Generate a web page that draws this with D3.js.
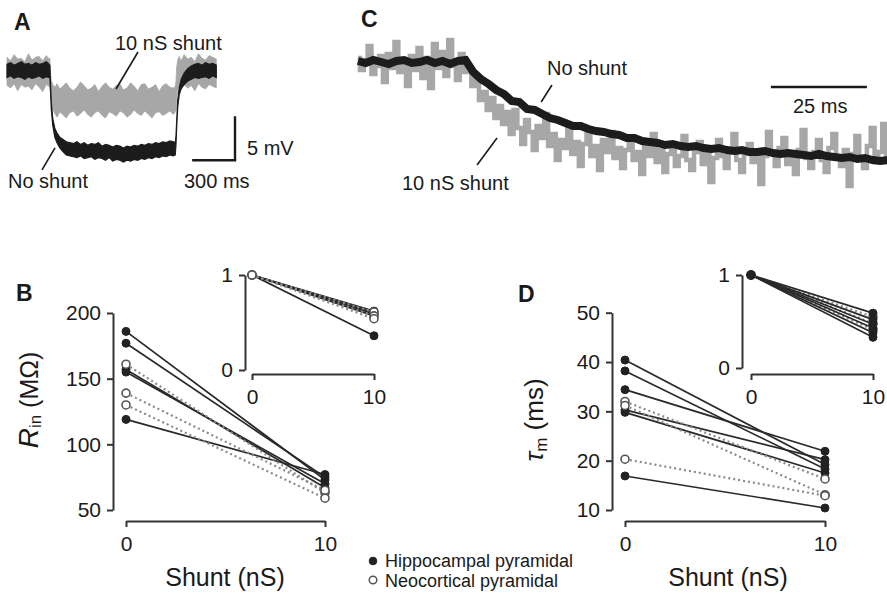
<!DOCTYPE html>
<html>
<head>
<meta charset="utf-8">
<script src="https://cdn.jsdelivr.net/npm/d3@7"></script>
<style>
  body { margin: 0; background: #fff; }
  text { font-family: "Liberation Sans", Arial, Helvetica, sans-serif; fill: #1a1a1a; }
</style>
</head>
<body>
<svg id="fig" width="887" height="598"></svg>
<script>
// ---------- Panel A: hyperpolarising step responses (mV vs ms) ----------
const timeA = [0,25,50,75,100,125,150,175,200,225,250,275,295,300,305,310,320,335,350,370,390,
  415,440,465,490,515,540,565,590,615,640,665,690,715,740,765,790,815,840,865,890,915,940,965,990,
  1015,1040,1065,1090,1115,1140,1165,1178,1183,1188,1195,1205,1220,1240,
  1265,1290,1315,1340,1365,1390,1415,1440,1465];
// 10 nS shunt trace: upper / lower noise envelope
const shuntHiA = [1.5,1.1,1.8,1.3,1.4,1.0,1.9,1.2,1.5,1.6,1.1,1.7,1.3,1.4,
  -0.4,-1.1,-1.6,-1.9,-1.5,-2.1,-1.8,-1.4,-2.0,-2.3,-1.9,-1.3,-1.7,-2.2,-2.0,-1.6,-2.4,-1.8,-1.4,-1.9,
  -2.1,-1.7,-1.5,-2.2,-2.0,-1.4,-1.8,-2.3,-1.6,-1.5,-2.1,-1.9,-1.6,-2.4,-1.7,-1.5,-1.9,-2.0,-1.8,-1.2,
  0.4,1.2,1.6,1.1,1.8,1.3,1.5,1.0,1.9,1.4,1.2,1.7,1.5,1.3];
const shuntLoA = [-1.7,-2.0,-1.5,-2.3,-1.6,-1.9,-1.8,-2.2,-1.5,-1.9,-2.4,-1.6,-1.8,-2.0,
  -2.6,-3.6,-4.4,-4.9,-5.3,-4.7,-5.0,-5.4,-4.8,-4.6,-5.2,-4.9,-4.5,-5.0,-5.3,-4.8,-4.6,-5.1,-5.4,-4.7,
  -4.9,-5.2,-4.6,-4.8,-5.3,-5.0,-4.5,-4.9,-5.1,-4.6,-5.0,-5.4,-4.8,-4.7,-5.1,-4.9,-4.6,-5.0,-4.7,-4.5,
  -3.0,-2.1,-1.8,-2.2,-1.6,-2.0,-1.7,-2.3,-1.5,-1.9,-2.1,-1.6,-1.8,-2.0];
// No shunt trace: upper / lower noise envelope
const noShuntHiA = [0.7,0.9,0.6,0.8,1.0,0.7,0.8,0.6,0.9,0.7,0.8,1.0,0.7,0.6,
  -1.6,-3.6,-5.4,-6.6,-7.1,-7.6,-7.8,-8.1,-8.2,-8.3,-8.1,-8.4,-8.2,-8.5,-8.3,-8.4,-8.2,-8.6,-8.4,-8.5,
  -8.7,-8.5,-8.6,-8.8,-8.6,-8.7,-8.5,-8.6,-8.4,-8.5,-8.3,-8.4,-8.2,-8.3,-8.1,-8.2,-8.0,-8.1,-8.2,-7.4,
  -5.6,-3.4,-2.0,-1.0,-0.3,0.2,0.5,0.7,0.8,0.6,0.9,0.7,0.8,0.6];
const noShuntLoA = [-0.8,-0.6,-0.9,-0.7,-0.8,-1.0,-0.7,-0.9,-0.8,-0.6,-0.9,-0.7,-0.8,-0.7,
  -2.4,-4.4,-6.2,-7.6,-8.2,-8.8,-9.2,-9.6,-9.7,-9.8,-9.9,-9.7,-10.0,-9.9,-9.8,-10.1,-9.9,-10.0,-10.2,-9.9,
  -10.3,-10.1,-10.2,-10.4,-10.2,-10.3,-10.1,-10.2,-10.0,-10.1,-9.9,-10.0,-9.8,-9.9,-9.7,-9.8,-9.6,-9.7,-9.6,-8.4,
  -6.4,-4.2,-2.8,-2.0,-1.6,-1.2,-1.0,-0.8,-0.9,-0.8,-0.7,-0.9,-0.6,-0.8];

// ---------- Panel C: onset of the response on a fast time base ----------
const dtNoShuntC = 2;   // ms per sample
const noShuntC = [0.05,-0.05,0.1,0.0,-0.1,0.05,0.1,-0.05,0.0,0.1,-0.05,0.05,-0.1,0.05,0.1,
  -0.5,-0.85,-1.1,-1.4,-1.6,-1.95,-2.0,-2.35,-2.4,-2.6,
  -2.8,-2.9,-3.05,-3.2,-3.2,-3.35,-3.45,-3.5,-3.6,-3.65,
  -3.8,-3.8,-3.95,-4.0,-4.05,-4.15,-4.1,-4.2,-4.25,-4.2,
  -4.3,-4.35,-4.3,-4.4,-4.45,-4.4,-4.5,-4.5,-4.45,-4.55,
  -4.6,-4.55,-4.6,-4.65,-4.7,-4.6,-4.7,-4.75,-4.8,-4.75,
  -4.85,-4.8,-4.9,-4.95,-4.9];
const dtShuntC = 1;     // ms per sample
const shuntC = [0.2,-0.4,0.1,0.8,-0.6,-0.2,0.3,-1.0,0.4,-0.3,1.0,-0.5,0.0,-1.2,0.3,
  -0.4,0.7,-0.8,0.2,-1.3,0.9,-0.3,0.5,-0.7,1.1,-0.2,-0.9,0.4,-0.5,
  -0.3,-1.2,-0.8,-1.9,-1.5,-2.4,-1.8,-2.8,-2.2,-3.1,
  -2.5,-3.6,-2.4,-3.3,-4.1,-2.9,-3.5,-4.4,-3.2,-3.8,
  -2.6,-4.2,-3.6,-4.9,-3.9,-4.3,-3.3,-4.6,-4.0,-5.2,
  -4.1,-3.6,-4.7,-4.2,-5.4,-3.9,-4.5,-3.5,-4.8,-4.3,
  -5.3,-4.4,-3.8,-4.9,-4.5,-5.6,-4.2,-4.7,-3.6,-5.0,
  -4.4,-5.5,-4.6,-4.1,-5.2,-4.7,-3.7,-4.9,-5.4,-4.5,
  -4.0,-5.1,-4.6,-6.0,-4.8,-3.9,-4.7,-5.3,-4.4,-3.6,
  -4.9,-5.5,-4.6,-4.1,-5.0,-4.5,-6.1,-4.7,-3.5,-4.6,
  -5.2,-4.3,-3.8,-5.1,-4.6,-5.6,-4.4,-3.4,-4.8,-5.3,
  -4.5,-3.9,-4.9,-5.5,-4.3,-3.6,-4.8,-5.2,-4.4,-6.2,
  -4.6,-3.7,-4.9,-5.3,-4.2,-3.3,-5.0,-4.5,-3.1,-4.6];

// ---------- Panels B and D: paired measurements (0 nS -> 10 nS) ----------
const shuntLevels = [0, 10];
const rinHippo = [[186, 73], [177, 75], [157, 67], [155, 70], [119, 77]];
const rinNeo   = [[161, 63], [139, 65], [130, 59]];
const rinNormHippo = [0.62, 0.60, 0.59, 0.57, 0.36];
const rinNormNeo   = [0.61, 0.57, 0.54];
const tauHippo = [[40.4, 19.2], [38.2, 18.3], [34.4, 21.9], [30.3, 20.2], [29.8, 17.5], [16.9, 10.4]];
const tauNeo   = [[32.0, 16.3], [31.2, 13.1], [20.3, 12.9]];
const tauNormHippo = [0.59, 0.52, 0.47, 0.43, 0.38, 0.33];
const tauNormNeo   = [0.55, 0.48, 0.41];

const rinTicks = [50, 100, 150, 200];
const tauTicks = [10, 20, 30, 40, 50];
const normTicks = [0, 1];
const legendLabels = ["Hippocampal pyramidal", "Neocortical pyramidal"];

// ---------- drawing ----------
const svg = d3.select("#fig");
const FONT = '"Liberation Sans", Arial, Helvetica, sans-serif';
const INK = "#1a1a1a";
const AXIS = "#333";
const GREY_TRACE = "#a7a7a7";

function panelLetter(x, y, s) {
  svg.append("text").attr("x", x).attr("y", y).attr("font-size", 23)
    .attr("font-weight", "bold").text(s);
}
function label(x, y, s, size, anchor) {
  return svg.append("text").attr("x", x).attr("y", y).attr("font-size", size || 20)
    .attr("text-anchor", anchor || "start").text(s);
}
function seg(x1, y1, x2, y2, w, c) {
  svg.append("line").attr("x1", x1).attr("y1", y1).attr("x2", x2).attr("y2", y2)
    .attr("stroke", c || INK).attr("stroke-width", w || 1.6);
}

// Panel A
const xA = d3.scaleLinear().domain([0, 1470]).range([7, 217]);
const yA = d3.scaleLinear().domain([0, -10]).range([70.5, 158.5]);
const areaA = (hi, lo) => d3.area()
  .x((d, i) => xA(timeA[i])).y0((d, i) => yA(lo[i])).y1((d, i) => yA(hi[i]));
svg.append("path").attr("d", areaA(shuntHiA, shuntLoA)(timeA))
  .attr("fill", GREY_TRACE).attr("stroke", GREY_TRACE).attr("stroke-width", 0.8);
svg.append("path").attr("d", areaA(noShuntHiA, noShuntLoA)(timeA))
  .attr("fill", "#1c1c1c").attr("stroke", "#1c1c1c").attr("stroke-width", 1.2);

panelLetter(14, 30, "A");
label(115, 50, "10 nS shunt");
seg(xA(917), yA(2.1), xA(763), yA(-2.1));
label(8, 188, "No shunt");
seg(xA(336), yA(-8.8), xA(245), yA(-11.3));
// scale bars: 5 mV, 300 ms
seg(xA(1596), yA(-5.2), xA(1596), yA(-10.2), 2.4);
seg(xA(1296), yA(-10.2), xA(1596) + 1.2, yA(-10.2), 2.4);
label(247, 155, "5 mV");
label(184, 188, "300 ms");

// Panel C
const xC = d3.scaleLinear().domain([0, 138]).range([358, 888]);
const yC = d3.scaleLinear().domain([0, -5]).range([62, 162]);
const lineC = (dt, curve) => d3.line().x((d, i) => xC(i * dt)).y(d => yC(d)).curve(curve);
svg.append("path").attr("d", lineC(dtShuntC, d3.curveStep)(shuntC))
  .attr("fill", "none").attr("stroke", GREY_TRACE).attr("stroke-width", 4.5);
svg.append("path").attr("d", lineC(dtNoShuntC, d3.curveLinear)(noShuntC))
  .attr("fill", "none").attr("stroke", "#1c1c1c").attr("stroke-width", 8)
  .attr("stroke-linejoin", "miter");

panelLetter(361, 27, "C");
label(547, 75, "No shunt");
seg(xC(50.5), yC(-1.15), xC(47.7), yC(-2.0));
label(402, 190, "10 nS shunt");
seg(xC(36.2), yC(-3.8), xC(31.0), yC(-5.15));
seg(xC(107.5), yC(-1.25), xC(132.5), yC(-1.25), 2.6);
label(793, 113, "25 ms");

// paired-data panels
function styleAxis(g, size) {
  g.attr("font-family", FONT).attr("font-size", size || 21);
  g.select(".domain").attr("stroke", AXIS).attr("stroke-width", 2);
  g.selectAll(".tick line").attr("stroke", AXIS).attr("stroke-width", 2);
  g.selectAll(".tick text").attr("fill", INK);
}

function pairedPanel(cfg) {
  const x = d3.scaleLinear().domain([0, 10]).range(cfg.xRange);
  const y = d3.scaleLinear().domain(cfg.yDomain).range(cfg.yRange);
  const gy = svg.append("g").attr("transform", `translate(${cfg.yAxisX},0)`)
    .call(d3.axisLeft(y).tickValues(cfg.yTicks).tickFormat(d3.format("d"))
      .tickSize(6).tickSizeOuter(0).tickPadding(6));
  styleAxis(gy);
  const gx = svg.append("g").attr("transform", `translate(0,${cfg.xAxisY})`)
    .call(d3.axisBottom(x).tickValues(shuntLevels).tickFormat(d3.format("d"))
      .tickSize(6).tickSizeOuter(0).tickPadding(9));
  styleAxis(gx);

  const groups = cfg.order.map(k => ({ kind: k, rows: k === "hippo" ? cfg.hippo : cfg.neo }));
  // connecting lines first
  groups.forEach(gp => {
    gp.rows.forEach(r => {
      svg.append("line")
        .attr("x1", x(shuntLevels[0])).attr("y1", y(r[0]))
        .attr("x2", x(shuntLevels[1])).attr("y2", y(r[1]))
        .attr("stroke", gp.kind === "hippo" ? "#2a2a2a" : "#8a8a8a")
        .attr("stroke-width", gp.kind === "hippo" ? 1.7 : 2.2)
        .attr("stroke-dasharray", gp.kind === "hippo" ? null : "2,3");
    });
  });
  // then the measurement points
  groups.forEach(gp => {
    gp.rows.forEach(r => {
      r.forEach((v, j) => {
        const c = svg.append("circle").attr("cx", x(shuntLevels[j])).attr("cy", y(v)).attr("r", 4);
        if (gp.kind === "hippo") c.attr("fill", "#222").attr("stroke", "#222").attr("stroke-width", 1);
        else c.attr("fill", "#fff").attr("stroke", "#555").attr("stroke-width", 1.6);
      });
    });
  });
}

const pairsFromNorm = arr => arr.map(v => [1, v]);

// Panel B
pairedPanel({ xRange: [126, 325], yDomain: [50, 200], yRange: [510, 313], yTicks: rinTicks,
  yAxisX: 113, xAxisY: 521, hippo: rinHippo, neo: rinNeo, order: ["hippo", "neo"] });
pairedPanel({ xRange: [252, 374], yDomain: [0, 1], yRange: [370, 275], yTicks: normTicks,
  yAxisX: 245, xAxisY: 374, hippo: pairsFromNorm(rinNormHippo), neo: pairsFromNorm(rinNormNeo),
  order: ["hippo", "neo"] });
panelLetter(16, 301, "B");
const rinTitle = svg.append("text").attr("transform", "translate(38,400) rotate(-90)")
  .attr("text-anchor", "middle").attr("font-size", 25);
rinTitle.append("tspan").attr("font-style", "italic").attr("font-size", 28).text("R");
rinTitle.append("tspan").attr("font-size", 17).attr("dy", 3).text("in");
rinTitle.append("tspan").attr("dy", -3).text(" (MΩ)");
label(225, 586, "Shunt (nS)", 25, "middle");

// Panel D
pairedPanel({ xRange: [625, 825], yDomain: [10, 50], yRange: [510, 312.7], yTicks: tauTicks,
  yAxisX: 612, xAxisY: 521, hippo: tauHippo, neo: tauNeo, order: ["hippo", "neo"] });
pairedPanel({ xRange: [751, 873], yDomain: [0, 1], yRange: [368, 275], yTicks: normTicks,
  yAxisX: 742, xAxisY: 374, hippo: pairsFromNorm(tauNormHippo), neo: pairsFromNorm(tauNormNeo),
  order: ["neo", "hippo"] });
panelLetter(518, 302, "D");
const tauTitle = svg.append("text").attr("transform", "translate(543,420) rotate(-90)")
  .attr("text-anchor", "middle").attr("font-size", 26);
tauTitle.append("tspan").attr("font-style", "italic").text("τ");
tauTitle.append("tspan").attr("font-size", 17).attr("dy", 4).text("m");
tauTitle.append("tspan").attr("dy", -4).text(" (ms)");
label(728, 586, "Shunt (nS)", 25, "middle");

// Legend
const legend = svg.append("g").attr("transform", "translate(373,0)");
legendLabels.forEach((s, i) => {
  legend.append("circle").attr("cy", 561 + i * 19).attr("r", 3.8)
    .attr("fill", i === 0 ? "#222" : "#fff").attr("stroke", i === 0 ? "#222" : "#555")
    .attr("stroke-width", i === 0 ? 1 : 1.5);
  legend.append("text").attr("x", 12).attr("y", 567 + i * 20).attr("font-size", 18).text(s);
});
</script>
</body>
</html>
